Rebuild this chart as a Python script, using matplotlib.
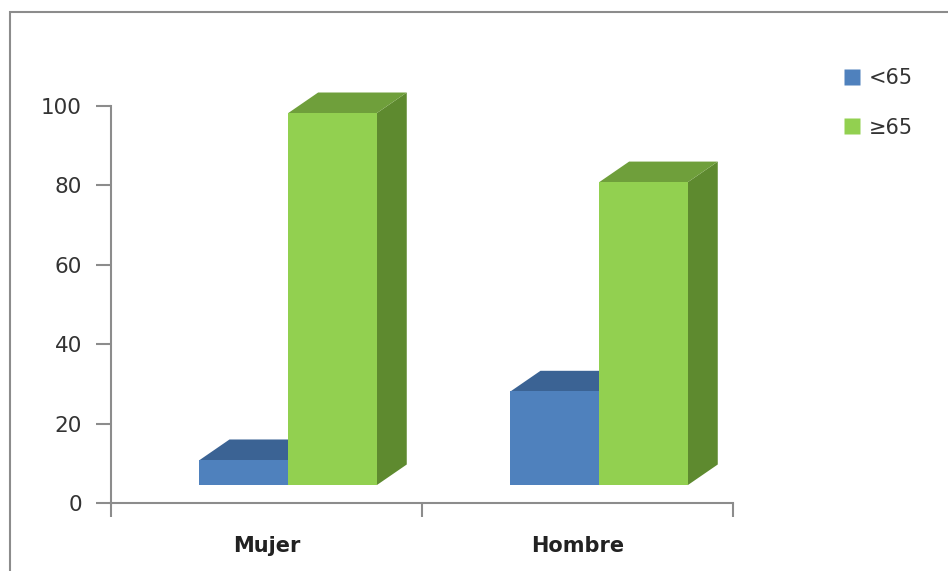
import matplotlib.pyplot as plt
from matplotlib.patches import Polygon, Rectangle
from matplotlib.lines import Line2D

# data
categories = ["Mujer", "Hombre"]
under65 = [6.3, 23.6]
over65 = [93.7, 76.3]
series_names = ["<65", "≥65"]

# 3d look
front_colors = ["#4f81bd", "#92d050"]
top_colors = ["#3b6394", "#6f9f3b"]
side_colors = ["#3b6394", "#5e8a2f"]
bar_w = 0.285
offsets = [-0.073, 0.212]
base = 4.5      # front face sits a bit above the floor
dx = 0.0965     # depth in x units
dy = 5.2        # depth in y units

fig = plt.figure(figsize=(9.48, 5.71), dpi=100)
ax = fig.add_axes([111/948, 68/571, 622/948, 397/571])

# outer chart frame (only left/top edges visible in the crop)
fig.patches.append(Rectangle((10/948, -0.2), 2, 1.2 - 12/571, transform=fig.transFigure,
                             fill=False, edgecolor="#8c8c8c", linewidth=1.5))

z = 2
for s, vals in enumerate([under65, over65]):
    for i, v in enumerate(vals):
        x0 = i + offsets[s] - bar_w/2
        x1 = x0 + bar_w
        top = base + v
        side = Polygon([(x1, base), (x1+dx, base+dy), (x1+dx, top+dy), (x1, top)],
                       closed=True, facecolor=side_colors[s], edgecolor="none",
                       zorder=z, clip_on=False)
        lid = Polygon([(x0, top), (x0+dx, top+dy), (x1+dx, top+dy), (x1, top)],
                      closed=True, facecolor=top_colors[s], edgecolor="none",
                      zorder=z, clip_on=False)
        ax.add_patch(side)
        ax.add_patch(lid)
    ax.bar([i + offsets[s] for i in range(len(vals))], vals, width=bar_w, bottom=base,
           color=front_colors[s], zorder=z + 1, clip_on=False)
    z += 2

ax.set_xlim(-0.5, 1.5)
ax.set_ylim(0, 100)
ax.set_yticks(range(0, 101, 20))
ax.set_xticks(range(len(categories)))
ax.set_xticklabels(categories, fontsize=15, fontweight="bold", color="#222222")
ax.set_xticks([-0.5, 0.5, 1.5], minor=True)
ax.tick_params(axis="x", which="major", length=0, pad=24)
ax.tick_params(axis="x", which="minor", length=10, width=1.5, color="#8c8c8c", direction="out")
ax.tick_params(axis="y", length=11, width=1.5, color="#8c8c8c", pad=10, labelsize=15.5,
               labelcolor="#333333")
for sp in ["top", "right"]:
    ax.spines[sp].set_visible(False)
for sp in ["left", "bottom"]:
    ax.spines[sp].set_color("#8c8c8c")
    ax.spines[sp].set_linewidth(1.5)

handles = [Line2D([], [], marker="s", linestyle="none", markersize=11,
                  markerfacecolor=c, markeredgecolor="none") for c in front_colors]
fig.legend(handles, series_names, loc="upper left", bbox_to_anchor=(831/948, 1 - 58/571),
           frameon=False, fontsize=15, labelspacing=1.4, handletextpad=0.3,
           handlelength=1.0, borderpad=0, labelcolor="#333333")

fig.savefig("out.png", dpi=100)
